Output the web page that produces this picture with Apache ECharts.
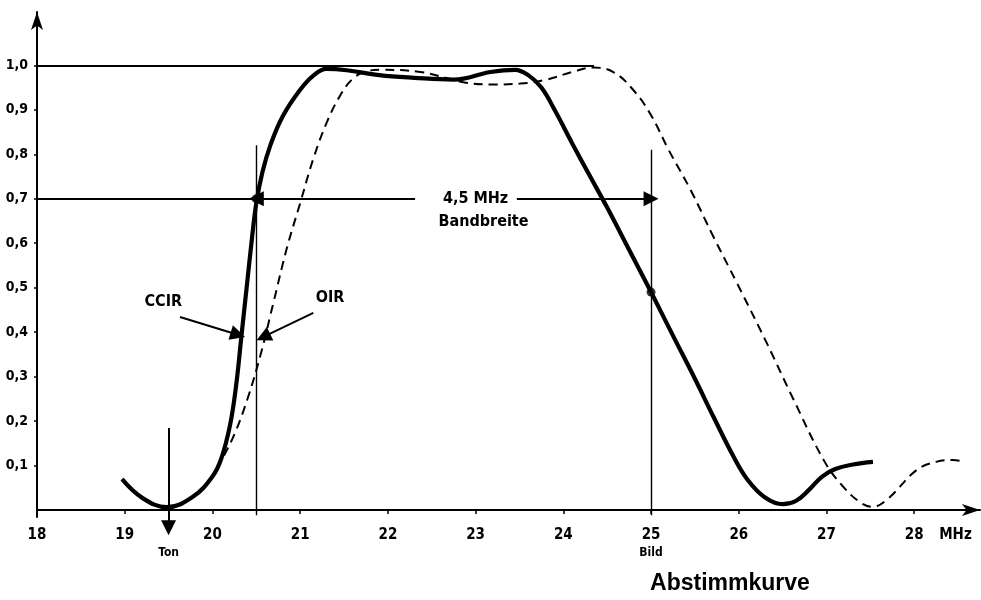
<!DOCTYPE html>
<html>
<head>
<meta charset="utf-8">
<script src="https://cdn.jsdelivr.net/npm/echarts@6/dist/echarts.min.js"></script>
<style>html,body{margin:0;padding:0;background:#fff}#c{width:981px;height:600px}</style>
</head>
<body>
<div id="c"></div>
<script>
// ---- data ----
const xTickValues = [19, 20, 21, 22, 23, 24, 25, 26, 27, 28];
const xLabelValues = [18, 19, 20, 21, 22, 23, 24, 25, 26, 27, 28];
const xUnitLabel = 'MHz';
const xUnitPos = 28.47;
const yTickValues = [0.1, 0.2, 0.3, 0.4, 0.5, 0.6, 0.7, 0.8, 0.9, 1.0];
const axisNotes = [[19.5, 'Ton'], [25, 'Bild']];

const ccirFreq = [18.97, 19.2, 19.48, 19.78, 20.0, 20.1, 20.2, 20.27, 20.33, 20.39, 20.45, 20.5, 20.57, 20.66, 20.8, 21.0, 21.15, 21.3, 21.53, 21.9, 22.3, 22.75, 23.17, 23.45, 23.6, 23.75, 23.9, 24.1, 24.3, 24.5, 24.75, 25.0, 25.25, 25.5, 25.71, 25.94, 26.1, 26.3, 26.5, 26.65, 26.8, 26.95, 27.1, 27.3, 27.53];
const ccirResp = [0.069, 0.027, 0.006, 0.03, 0.075, 0.115, 0.19, 0.28, 0.39, 0.5, 0.61, 0.69, 0.76, 0.82, 0.885, 0.945, 0.977, 0.992, 0.989, 0.978, 0.972, 0.968, 0.985, 0.99, 0.978, 0.95, 0.9, 0.825, 0.752, 0.68, 0.585, 0.49, 0.392, 0.295, 0.21, 0.12, 0.068, 0.028, 0.013, 0.02, 0.045, 0.075, 0.092, 0.102, 0.108];

const oirFreq = [18.97, 19.2, 19.48, 19.78, 20.0, 20.1, 20.25, 20.4, 20.55, 20.7, 20.85, 21.0, 21.15, 21.3, 21.45, 21.6, 21.75, 21.9, 22.37, 22.86, 23.17, 23.51, 23.81, 24.1, 24.34, 24.57, 24.8, 25.0, 25.2, 25.45, 25.71, 25.98, 26.32, 26.62, 26.98, 27.2, 27.4, 27.53, 27.7, 28.03, 28.25, 28.44, 28.58];
const oirResp = [0.069, 0.027, 0.006, 0.03, 0.075, 0.11, 0.17, 0.25, 0.35, 0.47, 0.59, 0.69, 0.79, 0.87, 0.93, 0.97, 0.986, 0.99, 0.985, 0.962, 0.957, 0.959, 0.968, 0.985, 0.995, 0.985, 0.944, 0.888, 0.81, 0.72, 0.615, 0.51, 0.375, 0.25, 0.108, 0.05, 0.015, 0.007, 0.025, 0.09, 0.108, 0.112, 0.108];

const markedPoints = [[20.5, 0.7], [25, 0.49]];
// guide lines [x1, y1, x2, y2]
const guideLines = [[18, 1.0, 24.35, 1.0], [18, 0.7, 20.5, 0.7], [20.5, -0.012, 20.5, 0.82], [25, -0.012, 25, 0.81]];
// arrows [xFrom, yFrom, xTo, yTo]
const arrowLines = [[22.31, 0.7, 20.5, 0.7], [23.47, 0.7, 25, 0.7], [19.5, 0.184, 19.5, -0.04], [19.63, 0.434, 20.29, 0.394], [21.15, 0.443, 20.58, 0.389]];
const textNotes = [[19.44, 0.467, 'CCIR'], [21.34, 0.478, 'OIR'], [23.0, 0.70, '4,5 MHz'], [23.09, 0.647, 'Bandbreite']];
const chartTitle = 'Abstimmkurve';

// ---- chart ----
const FONT = "'DejaVu Sans Condensed', 'Liberation Sans Narrow', sans-serif";
const zip = (a, b) => a.map((v, i) => [v, b[i]]);
const chart = echarts.init(document.getElementById('c'), null, {renderer: 'canvas'});

const option = {
  animation: false,
  backgroundColor: '#fff',
  grid: {left: 37, right: 1, top: 12, bottom: 83, containLabel: false},
  xAxis: {
    type: 'value', min: 18, max: 28.75,
    axisLine: {onZero: true, lineStyle: {color: '#000', width: 2}, symbol: ['none', 'arrow'], symbolSize: [9, 18]},
    axisTick: {customValues: xTickValues, length: 4, lineStyle: {color: '#000', width: 1.5}},
    axisLabel: {
      customValues: xLabelValues.concat(axisNotes.map(n => n[0]).filter(v => xLabelValues.indexOf(v) < 0), [xUnitPos]),
      margin: 10, color: '#000', fontFamily: FONT, fontSize: 15, fontWeight: 'bold', lineHeight: 17,
      formatter: function (v) {
        if (Math.abs(v - xUnitPos) < 1e-6) return xUnitLabel;
        const note = axisNotes.find(n => Math.abs(n[0] - v) < 1e-6);
        const base = xLabelValues.indexOf(v) >= 0 ? String(v) : '';
        return note ? base + '\n{s|' + note[1] + '}' : base;
      },
      rich: {s: {fontSize: 12, fontFamily: FONT, color: '#000', lineHeight: 17}}
    },
    splitLine: {show: false}
  },
  yAxis: {
    type: 'value', min: -0.016, max: 1.12,
    axisLine: {lineStyle: {color: '#000', width: 2}, symbol: ['none', 'arrow'], symbolSize: [9, 18]},
    axisTick: {customValues: yTickValues, length: 3, lineStyle: {color: '#000', width: 1.5}},
    axisLabel: {
      customValues: yTickValues, margin: 9, color: '#000', fontFamily: FONT, fontSize: 14, fontWeight: 'bold',
      formatter: v => v.toFixed(1).replace('.', ',')
    },
    splitLine: {show: false}
  },
  series: [
    {
      name: 'OIR', type: 'line', data: zip(oirFreq, oirResp), showSymbol: false, smooth: 0.4,
      lineStyle: {color: '#000', width: 2, type: [9, 6]}, z: 3
    },
    {
      name: 'CCIR', type: 'line', data: zip(ccirFreq, ccirResp), showSymbol: false, smooth: 0.4,
      lineStyle: {color: '#000', width: 4.2}, z: 4
    },
    {
      name: 'guides', type: 'lines', coordinateSystem: 'cartesian2d', clip: false, z: 2, silent: true,
      symbol: ['none', 'none'],
      data: guideLines.map((g, i) => ({
        coords: [[g[0], g[1]], [g[2], g[3]]],
        lineStyle: {color: '#000', width: i < 2 ? 2 : 1.4, opacity: 1}
      }))
    },
    {
      name: 'arrows', type: 'lines', coordinateSystem: 'cartesian2d', clip: false, z: 2, silent: true,
      symbol: ['none', 'triangle'], symbolSize: [7, 15],
      lineStyle: {color: '#000', width: 2, opacity: 1},
      itemStyle: {color: '#000'},
      data: arrowLines.map(a => ({coords: [[a[0], a[1]], [a[2], a[3]]]}))
    },
    {
      name: 'points', type: 'scatter', data: markedPoints, symbolSize: 9,
      itemStyle: {color: '#000'}, z: 5
    },
    {
      name: 'notes', type: 'scatter', symbolSize: 0, clip: false, z: 6, silent: true,
      data: textNotes.map(t => ({value: [t[0], t[1]], name: t[2]})),
      itemStyle: {color: '#000'},
      label: {
        show: true, position: [0, 0], align: 'center', verticalAlign: 'middle',
        formatter: p => '{t|' + p.name + '}',
        rich: {t: {color: '#000', fontFamily: FONT, fontSize: 16, fontWeight: 'bold', opacity: 1}}
      }
    }
  ],
  graphic: [{
    type: 'text', x: 730, y: 584,
    style: {text: chartTitle, font: "bold 23px 'Liberation Sans', Arial, sans-serif", fill: '#000', align: 'center', verticalAlign: 'middle'}
  }]
};
chart.setOption(option);
</script>
</body>
</html>
